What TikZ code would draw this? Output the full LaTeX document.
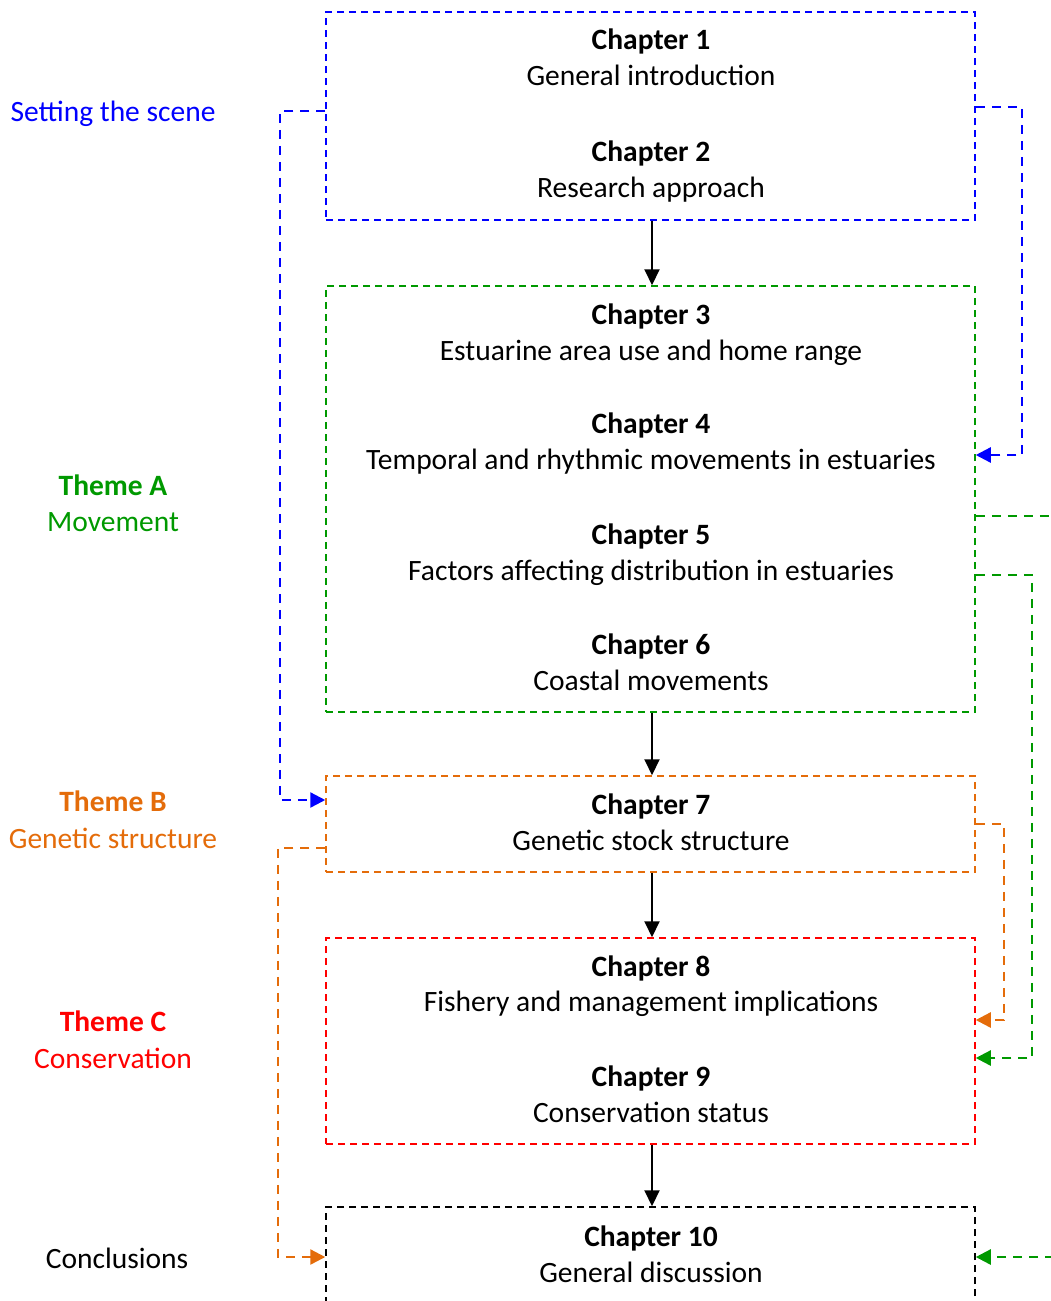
\documentclass[tikz,border=0pt]{standalone}
\usepackage{fontspec}
\setmainfont{Carlito}
\usetikzlibrary{arrows.meta,calc}
\definecolor{cblue}{RGB}{0,0,255}
\definecolor{cgreen}{RGB}{0,153,0}
\definecolor{corange}{RGB}{228,108,10}
\definecolor{cred}{RGB}{255,0,0}
\tikzset{
  chapbox/.style={draw, line width=1.5pt, dash pattern=on 7pt off 5pt, minimum width=649pt, inner sep=0pt},
  ctext/.style={font=\fontsize{29.5}{35}\selectfont, anchor=base, inner sep=0pt},
  ctitle/.style={ctext, font=\fontsize{29.5}{35}\selectfont\bfseries},
  conn/.style={line width=2.4pt, dash pattern=on 9pt off 7pt},
  tip/.style={-{Triangle[length=15pt,width=15pt]}},
  flow/.style={line width=2pt, -{Triangle[length=16pt,width=15pt]}},
  side/.style={font=\fontsize{29.5}{35}\selectfont, anchor=base, inner sep=0pt},
  sideb/.style={side, font=\fontsize{29.5}{35}\selectfont\bfseries},
}
\begin{document}
\begin{tikzpicture}[x=1pt,y=-1pt]
\path[use as bounding box] (0,0) rectangle (1051,1301);
\clip (0,0) rectangle (1051,1301);
% boxes
\node[chapbox, cblue, minimum height=208pt] (b1) at (650.5,116) {};
\node[chapbox, cgreen, minimum height=426pt] (b2) at (650.5,499) {};
\node[chapbox, corange, minimum height=96pt] (b3) at (650.5,824) {};
\node[chapbox, cred, minimum height=206pt] (b4) at (650.5,1041) {};
\node[chapbox, black, minimum height=160pt] (b5) at (650.5,1287) {};
% texts (baseline positions)
\node[ctitle] (t1) at (651,49.5) {Chapter 1};
\node[ctext] (s1) at (651,85.5) {General introduction};
\node[ctitle] (t2) at (651,161.5) {Chapter 2};
\node[ctext] (s2) at (651,197.5) {Research approach};
\node[ctitle] (t3) at (651,324.5) {Chapter 3};
\node[ctext] (s3) at (651,360.5) {Estuarine area use and home range};
\node[ctitle] (t4) at (651,433.5) {Chapter 4};
\node[ctext] (s4) at (651,469.5) {Temporal and rhythmic movements in estuaries};
\node[ctitle] (t5) at (651,544.5) {Chapter 5};
\node[ctext] (s5) at (651,580.5) {Factors affecting distribution in estuaries};
\node[ctitle] (t6) at (651,654.5) {Chapter 6};
\node[ctext] (s6) at (651,690.5) {Coastal movements};
\node[ctitle] (t7) at (651,814.5) {Chapter 7};
\node[ctext] (s7) at (651,850.5) {Genetic stock structure};
\node[ctitle] (t8) at (651,976.5) {Chapter 8};
\node[ctext] (s8) at (651,1011.5) {Fishery and management implications};
\node[ctitle] (t9) at (651,1086.5) {Chapter 9};
\node[ctext] (s9) at (651,1122.5) {Conservation status};
\node[ctitle] (t10) at (651,1246.5) {Chapter 10};
\node[ctext] (s10) at (651,1282.5) {General discussion};
% side labels
\node[side, cblue] (l1) at (113,121.5) {Setting the scene};
\node[sideb, cgreen] (l2a) at (113,495.5) {Theme A};
\node[side, cgreen] (l2b) at (113,531.5) {Movement};
\node[sideb, corange] (l3a) at (113,811.5) {Theme B};
\node[side, corange] (l3b) at (113,848.5) {Genetic structure};
\node[sideb, cred] (l4a) at (113,1031.5) {Theme C};
\node[side, cred] (l4b) at (113,1068.5) {Conservation};
\node[side, black] (l5) at (117,1268.5) {Conclusions};
% main flow
\draw[flow] (b1.south -| 652,0) -- (b2.north -| 652,0);
\draw[flow] (b2.south -| 652,0) -- (b3.north -| 652,0);
\draw[flow] (b3.south -| 652,0) -- (b4.north -| 652,0);
\draw[flow] (b4.south -| 652,0) -- (b5.north -| 652,0);
% side connectors
\coordinate (bl1) at (280,111);
\coordinate (br1) at (1022,107);
\coordinate (gr1) at (1070,516);
\coordinate (gr2) at (1032,575);
\coordinate (gr3) at (1070,1257);
\coordinate (ol1) at (278,848);
\coordinate (or1) at (1004,824);
\draw[conn, cblue, tip] (b1.west |- bl1) -- (bl1) |- (b3.west |- 0,800);
\draw[conn, cblue, tip] (b1.east |- br1) -- (br1) |- (b2.east |- 0,455);
\draw[conn, cgreen] (b2.east |- gr1) -- (gr1);
\draw[conn, cgreen, tip] (b2.east |- gr2) -- (gr2) |- (b4.east |- 0,1058);
\draw[conn, cgreen, tip] (gr3) -- (b5.east |- gr3);
\draw[conn, corange, tip] (b3.west |- ol1) -- (ol1) |- (b5.west |- 0,1257);
\draw[conn, corange, tip] (b3.east |- or1) -- (or1) |- (b4.east |- 0,1020);
\end{tikzpicture}
\end{document}
